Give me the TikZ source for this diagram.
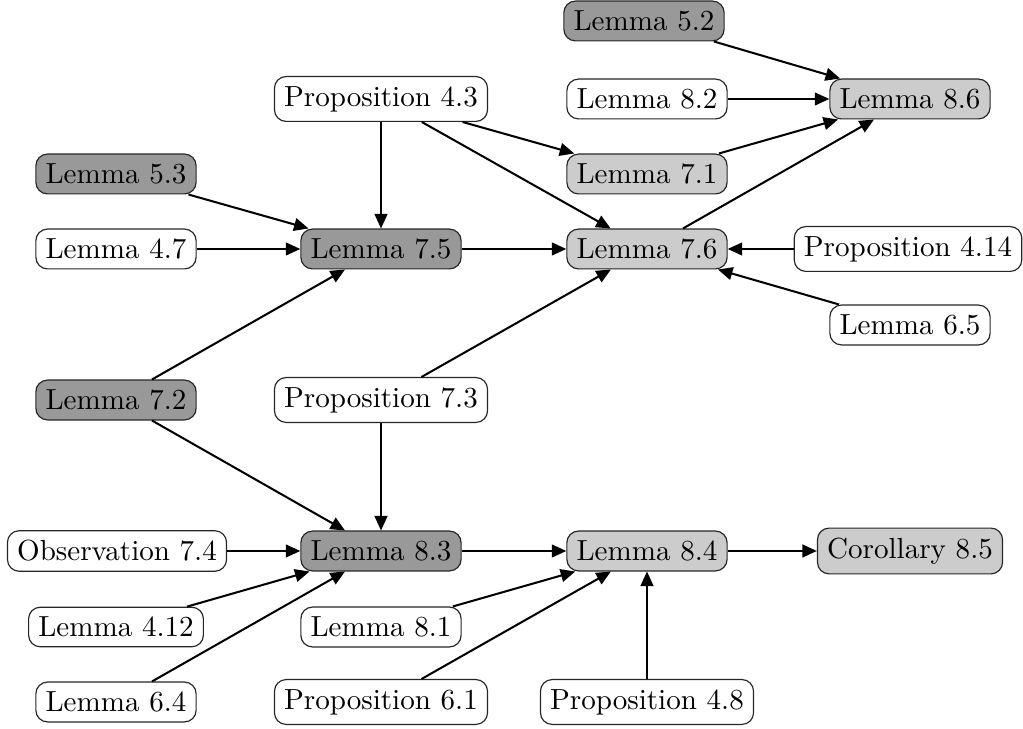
\documentclass[tikz,border=0pt]{standalone}
\usetikzlibrary{arrows.meta}
\begin{document}
\begin{tikzpicture}[x=0.344pt,y=-0.344pt,
  box/.style={draw=black!85,line width=0.4pt,rounded corners=4pt,fill=white,inner sep=3.33pt,font=\normalsize},
  dark/.style={box,fill=black!40},
  light/.style={box,fill=black!20},
  edge/.style={-{Triangle[length=5pt,width=4.4pt]},line width=0.7pt}]
\useasboundingbox (0,0) rectangle (1023,729);
\node[dark]  (l52)  at (644,21)  {Lemma 5.2};
\node[box]   (p43)  at (381,99)  {Proposition 4.3};
\node[box]   (l82)  at (647,99)  {Lemma 8.2};
\node[light] (l86)  at (910,99)  {Lemma 8.6};
\node[dark]  (l53)  at (116,174) {Lemma 5.3};
\node[light] (l71)  at (647,174) {Lemma 7.1};
\node[box]   (l47)  at (116,249) {Lemma 4.7};
\node[dark]  (l75)  at (381,249) {Lemma 7.5};
\node[light] (l76)  at (647,249) {Lemma 7.6};
\node[box]   (p414) at (908,249) {Proposition 4.14};
\node[box]   (l65)  at (910,325) {Lemma 6.5};
\node[dark]  (l72)  at (116,400) {Lemma 7.2};
\node[box]   (p73)  at (381,400) {Proposition 7.3};
\node[box]   (o74)  at (117,551) {Observation 7.4};
\node[dark]  (l83)  at (381,551) {Lemma 8.3};
\node[light] (l84)  at (647,551) {Lemma 8.4};
\node[light] (c85)  at (910,551) {Corollary 8.5};
\node[box]   (l412) at (116,627) {Lemma 4.12};
\node[box]   (l81)  at (381,627) {Lemma 8.1};
\node[box]   (l64)  at (116,702) {Lemma 6.4};
\node[box]   (p61)  at (381,702) {Proposition 6.1};
\node[box]   (p48)  at (647,702) {Proposition 4.8};
\draw[edge] (l52) -- (l86);
\draw[edge] (l82) -- (l86);
\draw[edge] (l71) -- (l86);
\draw[edge] (l76) -- (l86);
\draw[edge] (p43) -- (l71);
\draw[edge] (p43) -- (l76);
\draw[edge] (p43) -- (l75);
\draw[edge] (l53) -- (l75);
\draw[edge] (l47) -- (l75);
\draw[edge] (l72) -- (l75);
\draw[edge] (l75) -- (l76);
\draw[edge] (p414) -- (l76);
\draw[edge] (l65) -- (l76);
\draw[edge] (p73) -- (l76);
\draw[edge] (p73) -- (l83);
\draw[edge] (l72) -- (l83);
\draw[edge] (o74) -- (l83);
\draw[edge] (l412) -- (l83);
\draw[edge] (l64) -- (l83);
\draw[edge] (l83) -- (l84);
\draw[edge] (l81) -- (l84);
\draw[edge] (p61) -- (l84);
\draw[edge] (p48) -- (l84);
\draw[edge] (l84) -- (c85);
\end{tikzpicture}
\end{document}
